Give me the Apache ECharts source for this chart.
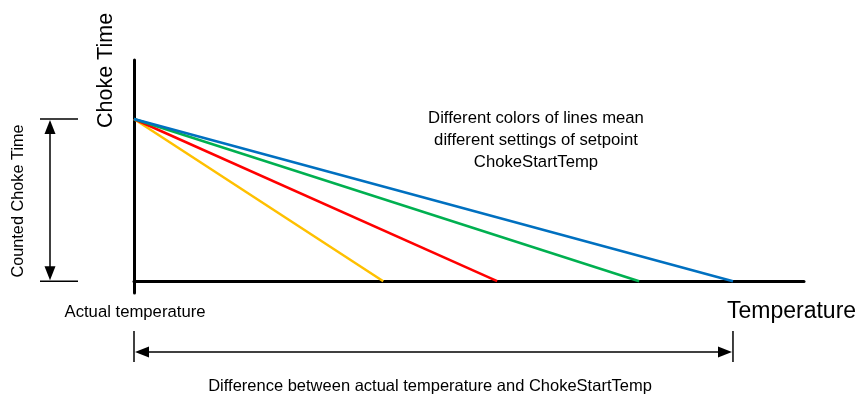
<!DOCTYPE html>
<html><head><meta charset="utf-8">
<script src="https://cdn.jsdelivr.net/npm/echarts@6/dist/echarts.min.js"></script>
<style>html,body{margin:0;padding:0;background:#fff}#c{width:857px;height:397px}</style>
</head><body><div id="c"></div>
<script>
// Data (diagram units)
const startTime = 11;            // counted choke time at actual temperature
const seriesNames = ['Yellow', 'Red', 'Green', 'Blue'];
const endTemps = [37.2, 54.2, 75.4, 89.4];   // where each line reaches zero
const seriesColors = ['#FFC000', '#FF0000', '#00B050', '#0070C0'];
const noteLines = ['Different colors of lines mean', 'different settings of setpoint', 'ChokeStartTemp'];

const FONT = 'Liberation Sans';
const chart = echarts.init(document.getElementById('c'));
const series = seriesNames.map((n, i) => ({
  name: n, type: 'line', symbol: 'none', animation: false,
  lineStyle: { color: seriesColors[i], width: 2.5 },
  data: [[0, startTime], [endTemps[i], 0]], z: 1
}));
chart.setOption({
  animation: false,
  grid: { left: 134, right: 53, top: 60, bottom: 397 - 293 },
  xAxis: { type: 'value', min: 0, max: 100, splitLine: { show: false },
    axisTick: { show: false }, axisLabel: { show: false },
    axisLine: { onZero: true, lineStyle: { color: '#000', width: 3 } } },
  yAxis: { type: 'value', min: -0.8, max: 15, splitLine: { show: false },
    axisTick: { show: false }, axisLabel: { show: false },
    axisLine: { onZero: false, lineStyle: { color: '#000', width: 3 } } },
  series: series
});

const p0 = chart.convertToPixel({ gridIndex: 0 }, [0, 0]);
const pTop = chart.convertToPixel({ gridIndex: 0 }, [0, startTime]);
const pEnd = chart.convertToPixel({ gridIndex: 0 }, [endTemps[3], 0]);
const ls = { stroke: '#000', lineWidth: 1.5 };
const g = [];
const HL = 15, HW = 5.5;
// left dimension arrow
const ax = 50;
g.push({ type: 'line', shape: { x1: 40, y1: pTop[1], x2: 78, y2: pTop[1] }, style: ls });
g.push({ type: 'line', shape: { x1: 40, y1: p0[1], x2: 78, y2: p0[1] }, style: ls });
g.push({ type: 'line', shape: { x1: ax, y1: pTop[1] + 10, x2: ax, y2: p0[1] - 10 }, style: ls });
g.push({ type: 'polygon', shape: { points: [[ax, pTop[1] + 1], [ax - HW, pTop[1] + HL], [ax + HW, pTop[1] + HL]] }, style: { fill: '#000' } });
g.push({ type: 'polygon', shape: { points: [[ax, p0[1] - 1], [ax - HW, p0[1] - HL], [ax + HW, p0[1] - HL]] }, style: { fill: '#000' } });
// bottom dimension arrow
const ay = 352;
g.push({ type: 'line', shape: { x1: p0[0], y1: 331, x2: p0[0], y2: 362 }, style: ls });
g.push({ type: 'line', shape: { x1: pEnd[0], y1: 331, x2: pEnd[0], y2: 362 }, style: ls });
g.push({ type: 'line', shape: { x1: p0[0] + 10, y1: ay, x2: pEnd[0] - 10, y2: ay }, style: ls });
g.push({ type: 'polygon', shape: { points: [[p0[0] + 1, ay], [p0[0] + HL, ay - HW], [p0[0] + HL, ay + HW]] }, style: { fill: '#000' } });
g.push({ type: 'polygon', shape: { points: [[pEnd[0] - 1, ay], [pEnd[0] - HL, ay - HW], [pEnd[0] - HL, ay + HW]] }, style: { fill: '#000' } });
// texts
function txt(text, x, y, size, align, rot) {
  return { type: 'text', x: x, y: y, rotation: rot || 0,
    style: { text: text, font: size + 'px "' + FONT + '"', fill: '#000', align: align || 'center', verticalAlign: 'middle' } };
}
g.push(txt('Choke Time', 106, 128, 21.5, 'left', Math.PI / 2));
g.push(txt('Counted Choke Time', 19, 201, 16.3, 'center', Math.PI / 2));
g.push(txt('Actual temperature', 135, 312, 16.7));
g.push(txt('Temperature', 727, 312, 23, 'left'));
noteLines.forEach((t, i) => g.push(txt(t, 536, 118 + i * 22, 16.7)));
g.push(txt('Difference between actual temperature and ChokeStartTemp', 430, 386, 16.5));
chart.setOption({ graphic: g });
</script></body></html>
